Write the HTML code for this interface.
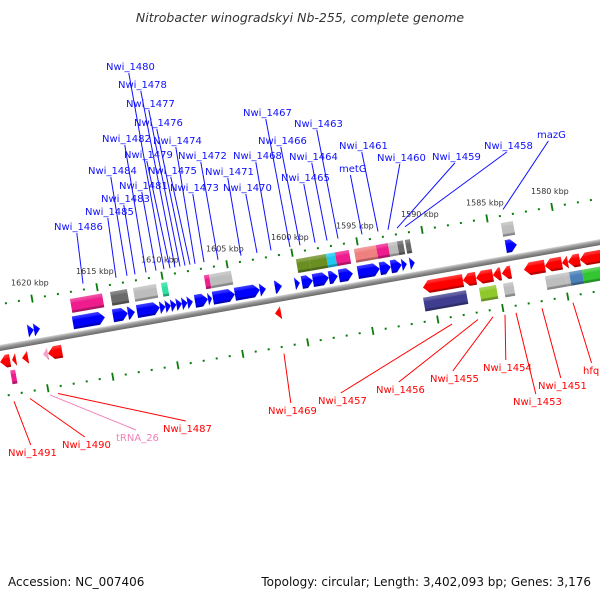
<!DOCTYPE html>
<html><head><meta charset="utf-8"><style>
html,body{margin:0;padding:0;background:#fff;}
svg{display:block;font-family:"DejaVu Sans","Liberation Sans",sans-serif;}
</style></head><body>
<svg id="c" width="600" height="600" viewBox="0 0 600 600" xmlns="http://www.w3.org/2000/svg">
<defs id="defs"></defs>
<text x="300" y="22" text-anchor="middle" font-size="12.5" font-style="italic" fill="#333">Nitrobacter winogradskyi Nb-255, complete genome</text>
<g id="track" transform="translate(300,293) rotate(-10)"></g>
<g id="labels"></g>
<text x="8" y="586" font-size="12" fill="#111">Accession: NC_007406</text>
<text x="591" y="586" text-anchor="end" font-size="12" fill="#111">Topology: circular; Length: 3,402,093 bp; Genes: 3,176</text>
</svg>
<script>
// ---- data (kbp) ----
const tickStart = 1623;
const tickEnd = 1575;
const majorTicks = [1620, 1615, 1610, 1605, 1600, 1595, 1590, 1585, 1580];
const fwdGeneStart = [1620.72,1620.26,1617.26,1614.18,1613.03,1612.33,1610.57,1610.14,1609.72,1609.30,1608.87,1608.45,1607.87,1606.87,1606.49,1604.80,1602.88,1601.72,1600.18,1599.65,1598.80,1597.57,1596.80,1595.34,1593.65,1592.80,1591.96,1591.34,1583.96];
const fwdGeneEnd   = [1620.26,1619.79,1614.80,1613.03,1612.49,1610.57,1610.14,1609.72,1609.30,1608.87,1608.45,1608.03,1606.87,1606.56,1604.80,1602.88,1602.41,1601.18,1599.80,1598.80,1597.57,1596.88,1595.72,1593.65,1592.80,1591.96,1591.57,1590.96,1583.11];
const revGeneStart = [1623.21,1622.29,1621.52,1619.90,1619.52,1602.06,1590.68,1587.60,1586.60,1585.30,1584.61,1582.91,1581.30,1579.99,1579.53,1578.61];
const revGeneEnd   = [1622.44,1621.98,1621.06,1619.52,1618.44,1601.60,1587.60,1586.60,1585.30,1584.68,1583.91,1581.30,1579.99,1579.53,1578.61,1576.83];
const revGeneColor = ['#f00','#f00','#f00','#f4a0c8','#f00','#f00','#f00','#f00','#f00','#f00','#f00','#f00','#f00','#f00','#f00','#f00'];
const fwdBoxStart = [1617.17,1614.09,1612.33,1610.17,1606.87,1606.48,1599.79,1598.79,1597.48,1596.79,1595.33,1593.64,1592.72,1592.02,1591.41,1584.03];
const fwdBoxEnd   = [1614.71,1612.79,1610.56,1609.71,1606.48,1604.79,1598.79,1597.48,1596.79,1595.72,1593.64,1592.72,1592.02,1591.56,1591.02,1583.10];
const fwdBoxColor = ['#ee1c8c','#6a6a6a','#bdbdbd','#30e0a0','#ee1c8c','#bdbdbd','#6b8e23','#6b8e23','#1ec8f0','#ee1c8c','#f08080','#ee1c8c','#bdbdbd','#6a6a6a','#6a6a6a','#bdbdbd'];
const revBoxStart = [1622.57,1590.81,1586.51,1584.66,1581.43,1579.89,1579.58,1578.59];
const revBoxEnd   = [1622.19,1587.51,1585.20,1583.89,1579.89,1579.58,1578.59,1577.16];
const revBoxColor = ['#ee1c8c','#3f3d8f','#8fc82a','#bdbdbd','#bdbdbd','#bdbdbd','#4a7fb8','#33c633'];
// labels: name, left x, center y, end x (screen)
const fwdLabelNames = ['Nwi_1480','Nwi_1478','Nwi_1477','Nwi_1476','Nwi_1482','Nwi_1474','Nwi_1479','Nwi_1472','Nwi_1468','Nwi_1484','Nwi_1475','Nwi_1471','Nwi_1481','Nwi_1473','Nwi_1470','Nwi_1483','Nwi_1485','Nwi_1486','Nwi_1467','Nwi_1466','Nwi_1463','Nwi_1464','Nwi_1465','Nwi_1461','metG','Nwi_1460','Nwi_1459','Nwi_1458','mazG'];
const fwdLabelX = [106,118,126,134,102,153,124,178,233,88,148,205,119,170,223,101,85,54,243,258,294,289,281,339,339,377,432,484,537];
const fwdLabelY = [66,84,103,122,138,140,154,155,155,170,170,171,185,187,187,198,211,226,112,140,123,156,177,145,168,157,156,145,134];
const fwdLabelEnd = [164,175,180,185,146,195,170,218,271,127,190,241,156,204,257,135,116,83,290,300,338,327,315,378,362,388,397,405,503];
const revLabelNames = ['Nwi_1469','Nwi_1457','Nwi_1456','Nwi_1455','Nwi_1454','Nwi_1453','Nwi_1451','hfq','Nwi_1487','Nwi_1490','Nwi_1491','tRNA_26'];
const revLabelX = [268,318,376,430,483,513,538,583,163,62,8,116];
const revLabelY = [410,400,389,378,367,401,385,370,428,444,452,437];
const revLabelEnd = [284,452,478,493,505,516,542,573,58,30,14,50];
const revLabelColor = ['#f00','#f00','#f00','#f00','#f00','#f00','#f00','#f00','#f00','#f00','#f00','#f080b8'];

// ---- helpers ----
const NS='http://www.w3.org/2000/svg';
const C=Math.cos(10*Math.PI/180), S=Math.sin(10*Math.PI/180);
function uOf(k){return -199+(1615-k)*13.2;}
function toScreen(u,v){return [300+C*u+S*v, 293-S*u+C*v];}
function uFromX(x,v){return (x-300-S*v)/C;}
const track=document.getElementById('track');
const labels=document.getElementById('labels');
const defs=document.getElementById('defs');
const grads={};
function shade(hex,f){
  let h=hex.replace('#','');if(h.length==3)h=h.split('').map(c=>c+c).join('');
  let r=parseInt(h.substr(0,2),16),g=parseInt(h.substr(2,2),16),b=parseInt(h.substr(4,2),16);
  const m=c=>Math.round(f>0?c+(255-c)*f:c*(1+f));
  return 'rgb('+m(r)+','+m(g)+','+m(b)+')';
}
function grad(col){
  if(grads[col])return 'url(#'+grads[col]+')';
  const id='g'+Object.keys(grads).length;grads[col]=id;
  const lg=document.createElementNS(NS,'linearGradient');
  lg.setAttribute('id',id);lg.setAttribute('x1','0');lg.setAttribute('y1','0');lg.setAttribute('x2','0');lg.setAttribute('y2','1');
  [[0,shade(col,0.25)],[0.25,shade(col,0.1)],[0.3,col],[0.8,col],[0.85,shade(col,-0.25)],[1,shade(col,-0.3)]].forEach(s=>{
    const st=document.createElementNS(NS,'stop');st.setAttribute('offset',s[0]);st.setAttribute('stop-color',s[1]);lg.appendChild(st);});
  defs.appendChild(lg);return 'url(#'+id+')';
}
function mk(tag,attrs,parent){const e=document.createElementNS(NS,tag);for(const k in attrs)e.setAttribute(k,attrs[k]);parent.appendChild(e);return e;}

// backbone
const bbg=document.createElementNS(NS,'linearGradient');
bbg.setAttribute('id','bb');bbg.setAttribute('x1','0');bbg.setAttribute('y1','0');bbg.setAttribute('x2','0');bbg.setAttribute('y2','1');
[[0,'#d8d8d8'],[0.4,'#999'],[1,'#666']].forEach(s=>{const st=document.createElementNS(NS,'stop');st.setAttribute('offset',s[0]);st.setAttribute('stop-color',s[1]);bbg.appendChild(st);});
defs.appendChild(bbg);
const bb=mk('rect',{x:-340,y:-1,width:680,height:6,fill:'url(#bb)'},track);



// ticks
for(let k=tickStart;k>=tickEnd;k--){
  const u=uOf(k);
  const major=majorTicks.indexOf(k)>=0;
  [-41,50].forEach(v=>{
    const t=major?mk('rect',{x:u-0.8,y:v-4,width:1.8,height:8,fill:'#0a7d0a'},track):mk('rect',{x:u-1,y:v-1,width:2,height:2,fill:'#0a7d0a'},track);
    
    
  });
  if(major){
    const p=toScreen(u,-41);
    const tl=mk('text',{x:p[0]-2,y:p[1]-13,'text-anchor':'middle','font-size':'8','fill':'#333'},labels);
    tl.textContent=k+' kbp';
    
    
  }
}
function arrow(u1,u2,vc,h,dir,fill){
  const a=Math.min(u1,u2),b=Math.max(u1,u2),len=b-a,hd=Math.min(6,len);
  let pts;
  if(dir>0)pts=[[a,vc-h/2],[b-hd,vc-h/2],[b,vc],[b-hd,vc+h/2],[a,vc+h/2]];
  else pts=[[b,vc-h/2],[a+hd,vc-h/2],[a,vc],[a+hd,vc+h/2],[b,vc+h/2]];
  return mk('polygon',{points:pts.map(p=>p.join(',')).join(' '),fill:fill},track);
}
for(let i=0;i<fwdGeneStart.length;i++){
  const e=arrow(uOf(fwdGeneStart[i]),uOf(fwdGeneEnd[i]),-10,13,1,grad('#0000ff'));
  
  
}
for(let i=0;i<revGeneStart.length;i++){
  const e=arrow(uOf(revGeneStart[i]),uOf(revGeneEnd[i]),16,13,-1,grad(revGeneColor[i]));
  
  
}
for(let i=0;i<fwdBoxStart.length;i++){
  const a=uOf(fwdBoxStart[i]),b=uOf(fwdBoxEnd[i]);
  const e=mk('rect',{x:Math.min(a,b),y:-34,width:Math.abs(b-a),height:14,fill:grad(fwdBoxColor[i])},track);
  
  
}
for(let i=0;i<revBoxStart.length;i++){
  const a=uOf(revBoxStart[i]),b=uOf(revBoxEnd[i]);
  const e=mk('rect',{x:Math.min(a,b),y:26,width:Math.abs(b-a),height:14,fill:grad(revBoxColor[i])},track);
  
  
}
for(let i=0;i<fwdLabelNames.length;i++){
  const t=mk('text',{x:fwdLabelX[i],y:fwdLabelY[i]+4,'font-size':'10','fill':'#1010ff'},labels);
  t.textContent=fwdLabelNames[i];
  
  
  const w=fwdLabelNames[i].length*5.7;
  const ex=fwdLabelEnd[i],p=toScreen(uFromX(ex,-47),-47);
  const l=mk('line',{x1:fwdLabelX[i]+w/2,y1:fwdLabelY[i]+7,x2:p[0],y2:p[1],stroke:'#1010ff','stroke-width':'1'},labels);
  
  
}
for(let i=0;i<revLabelNames.length;i++){
  const t=mk('text',{x:revLabelX[i],y:revLabelY[i]+4,'font-size':'10','fill':revLabelColor[i]},labels);
  t.textContent=revLabelNames[i];
  
  
  const w=revLabelNames[i].length*5.7;
  const ex=revLabelEnd[i],p=toScreen(uFromX(ex,57),57);
  const l=mk('line',{x1:revLabelX[i]+w/2,y1:revLabelY[i]-7,x2:p[0],y2:p[1],stroke:revLabelColor[i],'stroke-width':'1'},labels);
  
  
}
</script>
</body></html>
